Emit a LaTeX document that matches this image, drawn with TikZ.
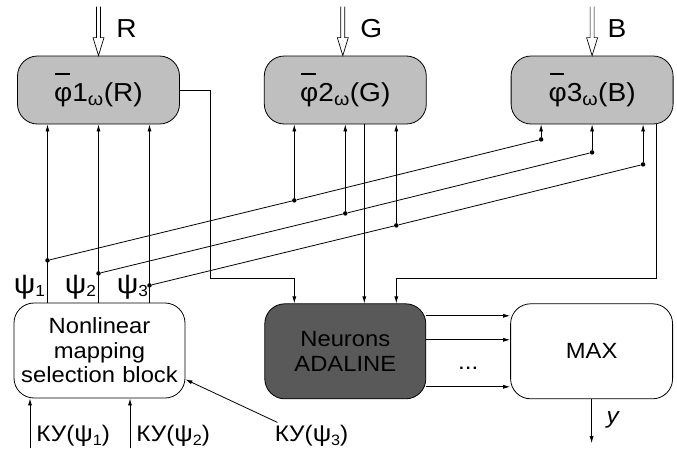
\documentclass[tikz,border=0pt]{standalone}
\usepackage{fontspec}
\setmainfont{Liberation Sans}[FakeStretch=1.08]
\usetikzlibrary{arrows.meta, positioning, calc}

\newcommand{\fibar}{\makebox[0pt][l]{\hspace{0.05em}\rule[1.02em]{0.55em}{0.06em}}φ}
\newcommand{\psilab}[1]{{\fontsize{28}{28}\selectfont ψ}\raisebox{-3pt}{\fontsize{16}{16}\selectfont #1}}
\newcommand{\psiky}[1]{{\fontsize{24}{24}\selectfont ψ}\raisebox{-4pt}{\fontsize{15}{15}\selectfont #1}}

\begin{document}
\begin{tikzpicture}[
  x=1pt, y=-1pt,
  line width=0.8pt,
  >={Latex[length=7pt, width=4pt]},
  fnbox/.style   = {draw, rounded corners=20pt, fill=black!25,
                    minimum width=162pt, minimum height=68pt,
                    font=\fontsize{26}{30}\selectfont},
  selbox/.style  = {draw, rounded corners=20pt, fill=white,
                    text width=165pt, align=center, inner sep=3pt,
                    minimum width=171pt, minimum height=95pt,
                    font=\fontsize{22}{24.5}\selectfont},
  neurbox/.style = {selbox, fill=black!65, text width=155pt,
                    minimum width=161pt},
  maxbox/.style  = {selbox, text width=156pt, minimum width=162pt},
  dot/.style     = {circle, fill, inner sep=0pt, minimum size=4.5pt},
  arr/.style     = {->},
  hollow/.style  = {line width=0.7pt},
  chan/.style    = {font=\fontsize{26}{30}\selectfont},
  lbl/.style     = {font=\fontsize{22.5}{24}\selectfont, inner sep=1pt},
]
\useasboundingbox (0,0) rectangle (677,448);

% =============================================
% TOP ROW: channel functions
% =============================================
\node[fnbox] (fR) at (98.5,90) {\fibar1\textsubscript{ω}(R)};
\node[fnbox, right=84pt of fR] (fG) {\fibar2\textsubscript{ω}(G)};
\node[fnbox, right=84pt of fG] (fB) {\fibar3\textsubscript{ω}(B)};

% =============================================
% BOTTOM ROW
% =============================================
\node[selbox] (sel) at (99.5,350.5) {Nonlinear\\mapping\\selection block};
\node[neurbox, below=179pt of fG] (neur) {Neurons\\ADALINE};
\node[maxbox,  right=84pt of neur]  (mx)   {MAX};

% =============================================
% CHANNEL INPUTS (hollow arrows)
% =============================================
\coordinate (srcR) at ($(fR.north)+(0,-49)$);
\coordinate (srcG) at ($(fG.north)+(-2.5,-49)$);
\coordinate (srcB) at ($(fB.north)+(0,-49)$);
\draw[hollow] ($(srcR)+(-2,0)$) -- ++(0,31) -- ++(-3.5,0) -- (srcR |- fR.north)
    -- ++(5.5,-18) -- ++(-3.5,0) -- ++(0,-31);
\draw[hollow] ($(srcG)+(-2,0)$) -- ++(0,31) -- ++(-3.5,0) -- (srcG |- fG.north)
    -- ++(5.5,-18) -- ++(-3.5,0) -- ++(0,-31);
\draw[hollow] ($(srcB)+(-2,0)$) -- ++(0,31) -- ++(-3.5,0) -- (srcB |- fB.north)
    -- ++(5.5,-18) -- ++(-3.5,0) -- ++(0,-31);
\node[chan] (labR) at ($(fR.north)+(28,-27)$) {R};
\node[chan] (labG) at ($(fG.north)+(26,-27)$) {G};
\node[chan] (labB) at ($(fB.north)+(25,-27)$) {B};

% =============================================
% PSI BUS: junction dots
% =============================================
\node[dot] (dR1) at ($(fR.south)+(-51,136)$) {};
\node[dot] (dR2) at ($(fR.south)+(0,149)$)   {};
\node[dot] (dR3) at ($(fR.south)+(51,161)$)  {};
\node[dot] (dG1) at ($(fG.south)+(-51,76)$)  {};
\node[dot] (dG2) at ($(fG.south)+(0,89)$)    {};
\node[dot] (dG3) at ($(fG.south)+(51,101)$)  {};
\node[dot] (dB1) at ($(fB.south)+(-51,15)$)  {};
\node[dot] (dB2) at ($(fB.south)+(0,28)$)    {};
\node[dot] (dB3) at ($(fB.south)+(51,40)$)   {};

% psi outputs up to the first block
\draw[arr] (sel.north -| dR1) -- (fR.south -| dR1);
\draw[arr] (sel.north -| dR2) -- (fR.south -| dR2);
\draw[arr] (sel.north -| dR3) -- (fR.south -| dR3);
\node[lbl] (psi1) at ($(sel.north -| dR1)+(-18,-15)$) {\psilab{1}};
\node[lbl] (psi2) at ($(sel.north -| dR2)+(-18,-15)$) {\psilab{2}};
\node[lbl] (psi3) at ($(sel.north -| dR3)+(-17,-15)$) {\psilab{3}};

% slanted bus lines
\draw (dR1) -- (dG1) -- (dB1);
\draw (dR2) -- (dG2) -- (dB2);
\draw (dR3) -- (dG3) -- (dB3);
\draw[arr] (dG1) -- (fG.south -| dG1);
\draw[arr] (dG2) -- (fG.south -| dG2);
\draw[arr] (dG3) -- (fG.south -| dG3);
\draw[arr] (dB1) -- (fB.south -| dB1);
\draw[arr] (dB2) -- (fB.south -| dB2);
\draw[arr] (dB3) -- (fB.south -| dB3);

% =============================================
% CHANNELS INTO NEURONS
% =============================================
\draw[arr] (fR.east) -- ++(30.5,0) |- ($(neur.north -| dG1)+(0,-25)$)
    -- (neur.north -| dG1);
\draw[arr] ([xshift=19pt]fG.south) -- ([xshift=19pt]neur.north);
\draw[arr] ([xshift=64pt]fB.south) |- ($(neur.north -| dG3)+(0,-25)$)
    -- (neur.north -| dG3);

% =============================================
% NEURONS TO MAX, OUTPUT
% =============================================
\draw[arr] ([yshift=35.5pt]neur.east)  -- ([yshift=35.5pt]mx.west);
\draw[arr] ([yshift=11.5pt]neur.east)  -- ([yshift=11.5pt]mx.west);
\draw[arr] ([yshift=-35.5pt]neur.east) -- ([yshift=-35.5pt]mx.west);
\node[lbl] (more) at ($(neur.east)!0.5!(mx.west)+(0,17)$) {...};

\coordinate (yout) at ($(mx.south)+(0,44)$);
\draw[arr] (mx.south) -- (yout);
\node[lbl] (ylbl) at ($(mx.south)+(21,21)$) {\itshape y};

% =============================================
% CONTROL INPUTS
% =============================================
\coordinate (ky1) at ($(sel.south)+(-69.5,50)$);
\coordinate (ky2) at ($(sel.south)+(30.5,50)$);
\coordinate (ky3) at ($(sel.south east)+(92,24)$);
\draw[arr] (ky1) -- (sel.south -| ky1);
\draw[arr] (ky2) -- (sel.south -| ky2);
\draw[arr] (ky3) -- ($(sel.south east)+(0,-19)$);
\node[lbl, anchor=south west] (kyl1) at ($(ky1)+(5,-1)$)  {КУ(\psiky{1})};
\node[lbl, anchor=south west] (kyl2) at ($(ky2)+(5,-1)$)  {КУ(\psiky{2})};
\node[lbl, anchor=south west] (kyl3) at ($(ky3)+(-4,25)$) {КУ(\psiky{3})};

\end{tikzpicture}
\end{document}
